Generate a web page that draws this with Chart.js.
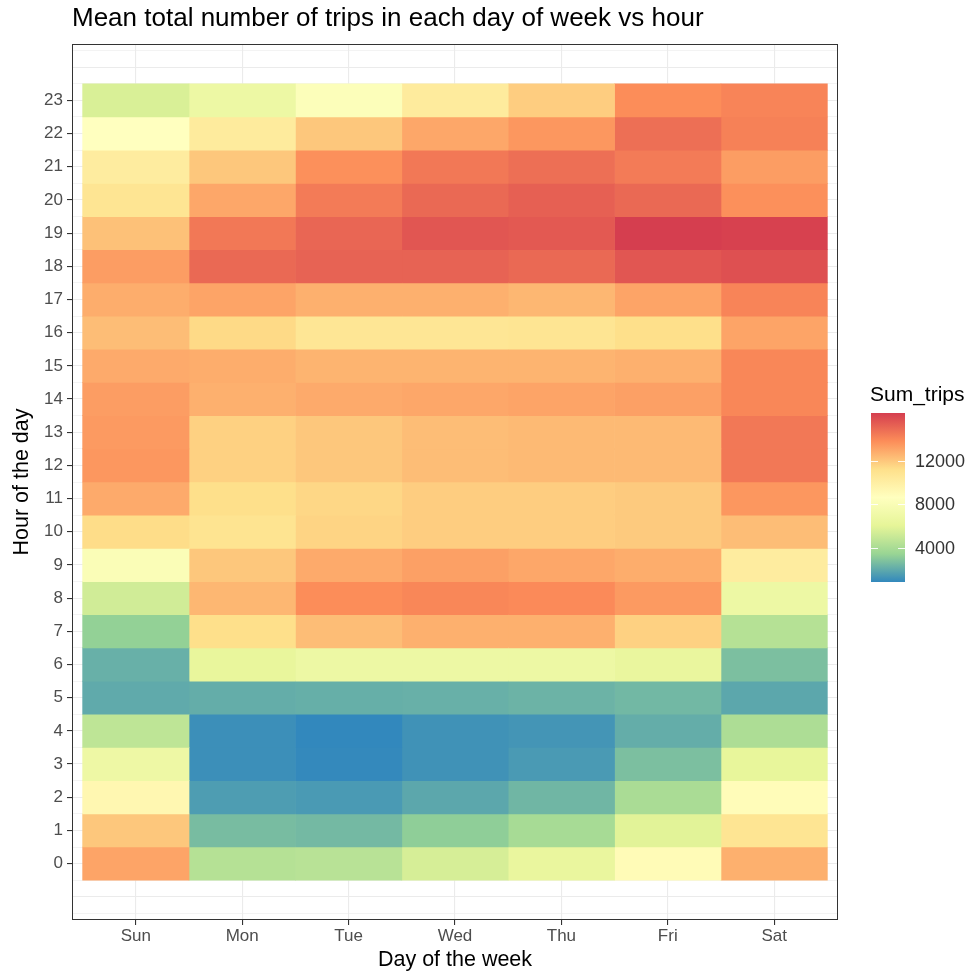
<!DOCTYPE html>
<html>
<head>
<meta charset="utf-8">
<script src="https://cdn.jsdelivr.net/npm/chart.js@4.4.1/dist/chart.umd.min.js"></script>
<style>
  html, body { margin: 0; padding: 0; background: #fff; }
</style>
</head>
<body>
<canvas id="heat" width="971" height="977"></canvas>
<script>
var days = ['Sun', 'Mon', 'Tue', 'Wed', 'Thu', 'Fri', 'Sat'];
var hours = [0, 1, 2, 3, 4, 5, 6, 7, 8, 9, 10, 11, 12, 13, 14, 15, 16, 17, 18, 19, 20, 21, 22, 23];

// mean trips per hour, hour 0 -> 23
var sunTrips = [13100, 12000, 9300, 6900, 4700, 2000, 2200, 3300, 5300, 8100, 11300, 12900,
                13500, 13400, 13300, 12900, 12300, 12800, 13300, 12200, 10800, 10200, 8600, 5600];
var monTrips = [4400, 2600, 1550, 1100, 1100, 2100, 6300, 11200, 12500, 12000, 10900, 11200,
                11700, 11700, 12700, 12800, 11400, 13100, 15000, 14500, 13000, 12000, 10300, 6800];
var tueTrips = [4500, 2500, 1450, 900, 850, 2150, 6800, 12300, 13800, 12900, 11600, 11500,
                12000, 12000, 12900, 12600, 10700, 12700, 15200, 15100, 14400, 13700, 12000, 8300];
var wedTrips = [5500, 3200, 1900, 1200, 1200, 2200, 6800, 12700, 14000, 13200, 11800, 11800,
                12300, 12300, 13000, 12600, 10700, 12700, 15200, 15600, 15000, 14500, 13000, 10300];
var thuTrips = [6400, 3900, 2400, 1450, 1300, 2300, 6800, 12700, 13900, 13000, 11800, 11800,
                12400, 12400, 13100, 12600, 10800, 12500, 15000, 15500, 15300, 14800, 13500, 11800];
var friTrips = [9000, 5900, 4000, 2700, 2100, 2450, 6400, 11700, 13400, 12800, 11900, 11900,
                12400, 12400, 13200, 12700, 11200, 13100, 15600, 16400, 15000, 14400, 14800, 13800];
var satTrips = [12700, 10800, 8900, 6200, 4100, 1900, 2700, 4400, 6800, 10200, 12300, 13500,
                14500, 14500, 14000, 14000, 13100, 14100, 15800, 16300, 13700, 13300, 14200, 14100];

var legendTicks = [4000, 8000, 12000];
var tripsMin = 850;
var tripsMax = 16400;

var allTrips = [sunTrips, monTrips, tueTrips, wedTrips, thuTrips, friTrips, satTrips];

// brewer Spectral (7), low -> high
var spectral = ['#3288BD', '#99D594', '#E6F598', '#FFFFBF', '#FEE08B', '#FC8D59', '#D53E4F'];
var fontFamily = '"Liberation Sans", Arial, sans-serif';

function hexRgb(h) {
  return [parseInt(h.substr(1, 2), 16), parseInt(h.substr(3, 2), 16), parseInt(h.substr(5, 2), 16)];
}

function colorFor(v) {
  var t = (v - tripsMin) / (tripsMax - tripsMin);
  t = Math.max(0, Math.min(1, t));
  var seg = t * (spectral.length - 1);
  var i = Math.min(Math.floor(seg), spectral.length - 2);
  var f = seg - i;
  var a = hexRgb(spectral[i]), b = hexRgb(spectral[i + 1]);
  var c = a.map(function(x, k) { return Math.round(x + (b[k] - x) * f); });
  return 'rgb(' + c.join(',') + ')';
}

var datasets = days.map(function(day, d) {
  return {
    label: day,
    data: hours.map(function(h) { return {x: d, y: [h - 0.5, h + 0.5]}; }),
    backgroundColor: allTrips[d].map(colorFor),
    borderWidth: 0,
    grouped: false,
    barPercentage: 1,
    categoryPercentage: 1
  };
});

var gridTicks = [];
for (var g = -1.5; g <= 24.5; g += 0.5) gridTicks.push({value: g});

var panelBorder = {
  id: 'panelBorder',
  afterDatasetsDraw: function(chart) {
    var a = chart.chartArea, ctx = chart.ctx;
    ctx.save();
    ctx.strokeStyle = '#333333';
    ctx.lineWidth = 1;
    ctx.strokeRect(a.left + 0.5, a.top + 0.5, a.right - a.left - 1, a.bottom - a.top - 1);
    ctx.restore();
  }
};

var colorBar = {
  id: 'colorBar',
  afterDraw: function(chart) {
    var ctx = chart.ctx;
    var x0 = 871, w = 34, top = 413, bottom = 582;
    ctx.save();
    ctx.fillStyle = '#000000';
    ctx.font = '21px ' + fontFamily;
    ctx.textBaseline = 'alphabetic';
    ctx.textAlign = 'left';
    ctx.fillText('Sum_trips', 870, 401);

    var grad = ctx.createLinearGradient(0, bottom, 0, top);
    spectral.forEach(function(c, i) { grad.addColorStop(i / (spectral.length - 1), c); });
    ctx.fillStyle = grad;
    ctx.fillRect(x0, top, w, bottom - top);

    ctx.font = '18px ' + fontFamily;
    ctx.textBaseline = 'middle';
    ctx.strokeStyle = 'rgba(255,255,255,0.9)';
    ctx.lineWidth = 1;
    legendTicks.forEach(function(v) {
      var y = Math.round(bottom - (v - tripsMin) / (tripsMax - tripsMin) * (bottom - top)) + 0.5;
      ctx.beginPath();
      ctx.moveTo(x0, y); ctx.lineTo(x0 + 7, y);
      ctx.moveTo(x0 + w - 7, y); ctx.lineTo(x0 + w, y);
      ctx.stroke();
      ctx.fillStyle = '#333333';
      ctx.fillText(String(v), 915, y + 1);
    });
    ctx.restore();
  }
};

var config = {
  type: 'bar',
  data: { datasets: datasets },
  options: {
    responsive: false,
    animation: false,
    devicePixelRatio: 1,
    layout: { padding: { left: 0, right: 133, top: 0, bottom: 0 } },
    plugins: {
      legend: { display: false },
      tooltip: { enabled: false },
      title: {
        display: true,
        text: 'Mean total number of trips in each day of week vs hour',
        align: 'start',
        fullSize: false,
        color: '#000000',
        font: { family: fontFamily, size: 26, weight: 'normal' },
        padding: { top: 3, bottom: 9.8 }
      }
    },
    scales: {
      x: {
        type: 'linear',
        offset: false,
        min: -0.6,
        max: 6.6,
        afterBuildTicks: function(scale) {
          scale.ticks = days.map(function(d, i) { return {value: i}; });
        },
        afterFit: function(scale) { scale.height = 57; },
        ticks: {
          autoSkip: false,
          maxRotation: 0,
          padding: 1,
          color: '#4D4D4D',
          font: { family: fontFamily, size: 17 },
          callback: function(v) { return days[v]; }
        },
        grid: {
          offset: false,
          color: '#EBEBEB',
          lineWidth: 1.1,
          tickLength: 5,
          tickColor: '#333333'
        },
        border: { display: false },
        title: {
          display: true,
          text: 'Day of the week',
          color: '#000000',
          font: { family: fontFamily, size: 21.5 },
          padding: { top: 0, bottom: 4 }
        }
      },
      y: {
        type: 'linear',
        min: -1.7,
        max: 24.7,
        afterBuildTicks: function(scale) { scale.ticks = gridTicks.slice(); },
        afterFit: function(scale) { scale.width = 72; },
        ticks: {
          autoSkip: false,
          padding: 4,
          color: '#4D4D4D',
          font: { family: fontFamily, size: 17 },
          callback: function(v) {
            return (Number.isInteger(v) && v >= 0 && v <= 23) ? String(v) : '';
          }
        },
        grid: {
          color: '#EBEBEB',
          lineWidth: function(c) { return Number.isInteger(c.tick.value) ? 1.1 : 0.6; },
          tickLength: 5,
          tickColor: function(c) {
            var v = c.tick.value;
            return (Number.isInteger(v) && v >= 0 && v <= 23) ? '#333333' : 'rgba(0,0,0,0)';
          }
        },
        border: { display: false },
        title: {
          display: true,
          text: 'Hour of the day',
          color: '#000000',
          font: { family: fontFamily, size: 21.5 },
          padding: { top: 9, bottom: 0 }
        }
      }
    }
  },
  plugins: [panelBorder, colorBar]
};

window.onload = function() {
  var ctx = document.getElementById('heat').getContext('2d');
  window.heatChart = new Chart(ctx, config);
};
</script>
</body>
</html>
